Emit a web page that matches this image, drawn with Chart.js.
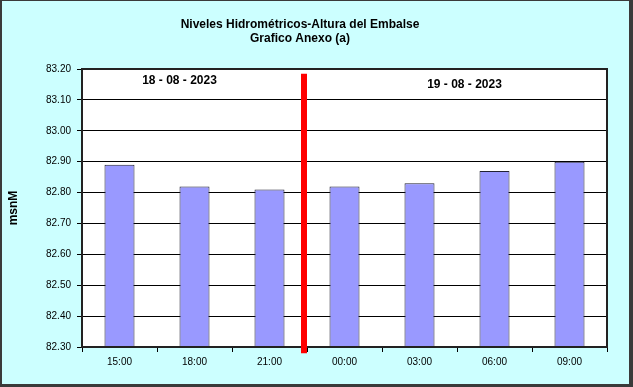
<!DOCTYPE html>
<html>
<head>
<meta charset="utf-8">
<script src="https://cdn.jsdelivr.net/npm/chart.js@4.4.0/dist/chart.umd.min.js"></script>
<style>
  html, body { margin: 0; padding: 0; background: #3a3a3a; }
  #wrap { width: 633px; height: 387px; position: relative; }
</style>
</head>
<body>
<div id="wrap"><canvas id="levelChart" width="633" height="387"></canvas></div>
<script>
const hours = ["15:00", "18:00", "21:00", "00:00", "03:00", "06:00", "09:00"];
const levels = [82.89, 82.82, 82.81, 82.82, 82.83, 82.87, 82.90];
const yTicks = [82.30, 82.40, 82.50, 82.60, 82.70, 82.80, 82.90, 83.00, 83.10, 83.20];
const titleLines = ["Niveles Hidrométricos-Altura del Embalse", "Grafico Anexo (a)"];
const dayLabels = ["18 - 08 - 2023", "19 - 08 - 2023"];
const dividerPos = 2.46;          // between 21:00 and 00:00
const dividerRange = [82.28, 83.185];

const font = "'Liberation Sans', Arial, sans-serif";

const framePlugin = {
  id: "frame",
  beforeDraw(chart) {
    const ctx = chart.ctx;
    ctx.save();
    ctx.fillStyle = "#3a3a3a";
    ctx.fillRect(0, 0, chart.width, chart.height);
    ctx.fillStyle = "#ccffff";
    ctx.fillRect(2, 1, 627, 383);
    const a = chart.chartArea;
    ctx.fillStyle = "#ffffff";
    ctx.fillRect(a.left, a.top, a.right - a.left, a.bottom - a.top);
    ctx.restore();
  },
  afterDatasetsDraw(chart) {
    const ctx = chart.ctx;
    const a = chart.chartArea;
    const x = chart.scales.x, y = chart.scales.y;
    ctx.save();
    ctx.strokeStyle = "#222";
    ctx.lineWidth = 2;
    ctx.strokeRect(a.left, a.top, a.right - a.left, a.bottom - a.top);

    const px = x.getPixelForValue(dividerPos);
    ctx.strokeStyle = "#ff0000";
    ctx.lineWidth = 6;
    ctx.beginPath();
    ctx.moveTo(px, y.getPixelForValue(dividerRange[1]));
    ctx.lineTo(px, y.getPixelForValue(dividerRange[0]));
    ctx.stroke();

    ctx.fillStyle = "#000";
    ctx.textAlign = "center";
    ctx.textBaseline = "middle";
    ctx.font = "bold 12px " + font;
    ctx.fillText(dayLabels[0], x.getPixelForValue(0.8), a.top + 12);
    ctx.fillText(dayLabels[1], x.getPixelForValue(4.6), a.top + 16);

    ctx.fillText(titleLines[0], 300, 25);
    ctx.fillText(titleLines[1], 300, 39);
    ctx.restore();
  }
};

new Chart(document.getElementById("levelChart"), {
  type: "bar",
  data: {
    labels: hours,
    datasets: [{
      data: levels,
      backgroundColor: "#9999ff",
      borderColor: "#222233",
      borderWidth: 1,
      borderSkipped: false,
      barPercentage: 0.4,
      categoryPercentage: 1
    }]
  },
  options: {
    responsive: false,
    animation: false,
    layout: { padding: { top: 69, right: 26, left: 0, bottom: 0 } },
    plugins: { legend: { display: false }, tooltip: { enabled: false } },
    scales: {
      x: {
        offset: true,
        afterFit: s => { s.height = 40; },
        grid: { offset: true, drawOnChartArea: false, tickLength: 5, color: "#000" },
        border: { color: "#000", width: 2 },
        ticks: { color: "#000", font: { family: font, size: 10 }, padding: 4 }
      },
      y: {
        min: 82.30,
        max: 83.20,
        afterFit: s => { s.width = 82; },
        afterBuildTicks: s => { s.ticks = yTicks.map(v => ({ value: v })); },
        grid: { color: "#000", tickLength: 5 },
        border: { color: "#000", width: 2 },
        ticks: { color: "#000", font: { family: font, size: 10 }, padding: 6, callback: v => v.toFixed(2) },
        title: { display: true, text: "msnM", color: "#000", font: { family: font, size: 12, weight: "bold" }, padding: { top: 6 } }
      }
    }
  },
  plugins: [framePlugin]
});
</script>
</body>
</html>
